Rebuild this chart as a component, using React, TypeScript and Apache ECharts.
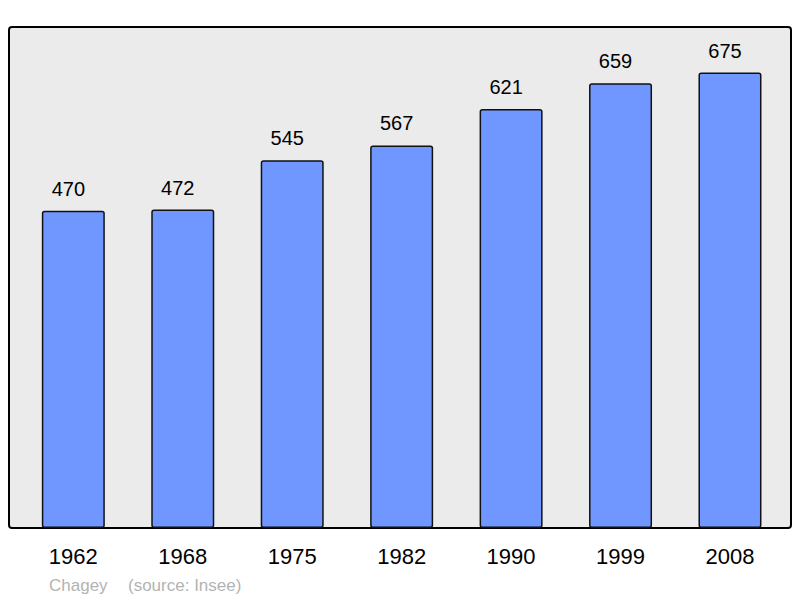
import { useEffect, useRef } from "react";
import * as echarts from "echarts";

const YEARS = ["1962", "1968", "1975", "1982", "1990", "1999", "2008"];
const POPULATION = [470, 472, 545, 567, 621, 659, 675];
const FOOTER_NAME = "Chagey";
const FOOTER_SOURCE = "(source: Insee)";

const FONT = "'Liberation Sans', Arial, sans-serif";

export default function App() {
  const chartRef = useRef<HTMLDivElement>(null);

  useEffect(() => {
    if (!chartRef.current) return;
    const chart = echarts.init(chartRef.current, undefined, { renderer: "svg" });

    chart.setOption({
      animation: false,
      backgroundColor: "#ffffff",
      textStyle: { fontFamily: FONT },
      grid: { left: 18.6, right: 15.3, top: 27, bottom: 70 },
      // 背景框
      graphic: [
        {
          type: "rect",
          z: 0,
          shape: { x: 9, y: 27, width: 782, height: 501, r: 3 },
          style: { fill: "#ebebeb", stroke: "#000", lineWidth: 2 },
        },
        {
          type: "text",
          x: 49,
          y: 585,
          style: {
            text: FOOTER_NAME,
            fill: "#b3b3b3",
            font: `17px ${FONT}`,
            verticalAlign: "middle",
          },
        },
        {
          type: "text",
          x: 128,
          y: 585,
          style: {
            text: FOOTER_SOURCE,
            fill: "#b3b3b3",
            font: `17px ${FONT}`,
            verticalAlign: "middle",
          },
        },
      ],
      xAxis: {
        type: "category",
        data: YEARS,
        axisLine: { show: false },
        axisTick: { show: false },
        axisLabel: { fontSize: 22, color: "#000", margin: 17, fontFamily: FONT },
      },
      yAxis: {
        type: "value",
        min: 0,
        max: 742.5,
        show: false,
        splitLine: { show: false },
      },
      series: [
        {
          type: "bar",
          data: POPULATION,
          barWidth: 63,
          z: 3,
          itemStyle: {
            color: "#7096ff",
            borderColor: "#111",
            borderWidth: 1.5,
            borderRadius: 2,
          },
          label: {
            show: true,
            position: "top",
            distance: 12,
            offset: [-5, 0],
            fontSize: 20,
            color: "#000",
            fontFamily: FONT,
          },
        },
      ],
    });

    return () => chart.dispose();
  }, []);

  return (
    <div
      ref={chartRef}
      style={{ position: "fixed", left: 0, top: 0, width: 800, height: 598 }}
    />
  );
}
